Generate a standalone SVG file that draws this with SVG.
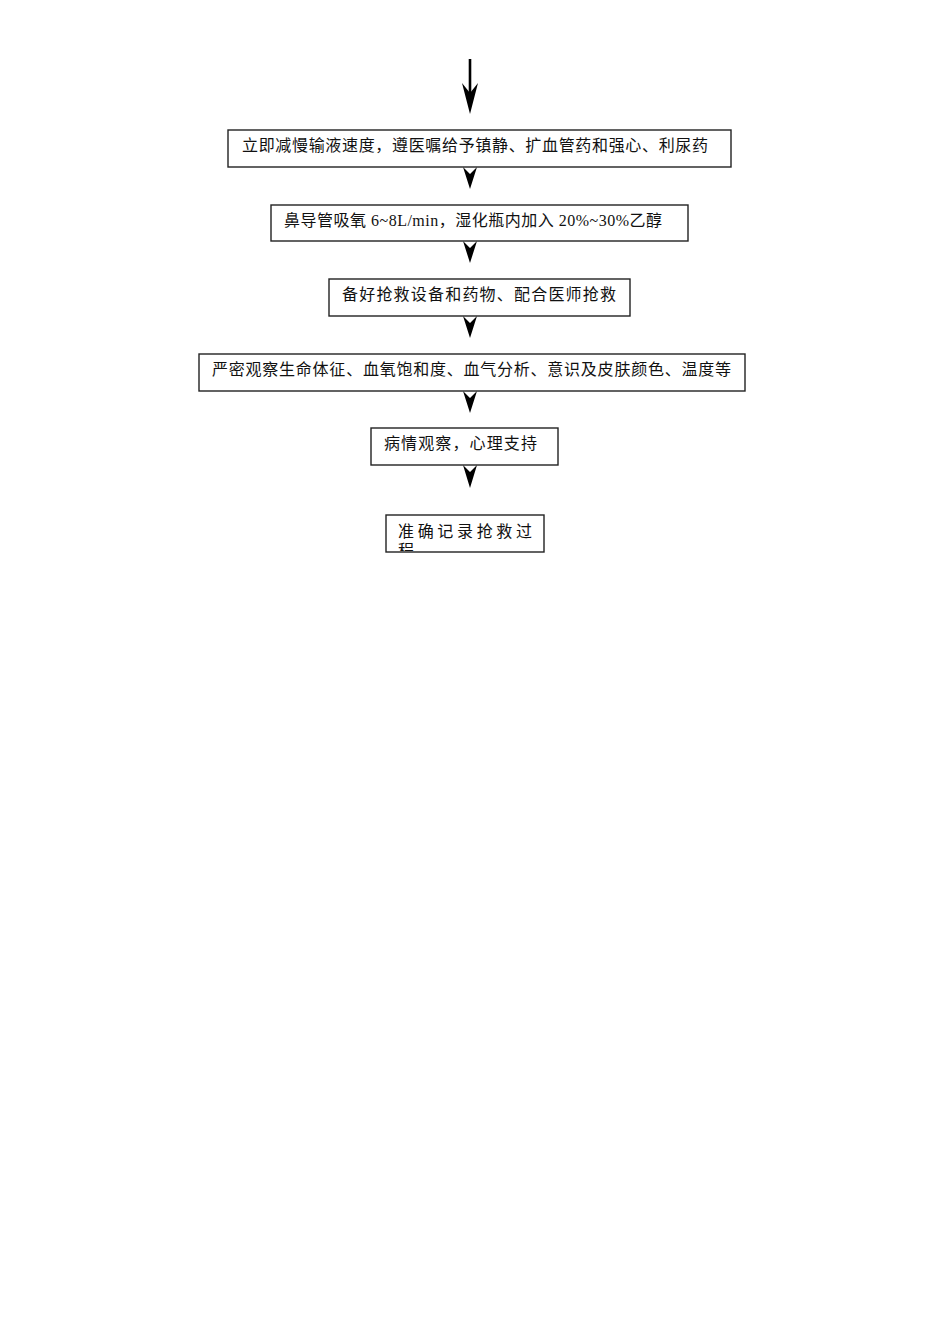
<svg xmlns="http://www.w3.org/2000/svg" width="950" height="1344" viewBox="0 0 950 1344">
<style>
.box{fill:#fff;stroke:#222;stroke-width:1.4}
.t{font-family:"Liberation Serif","Noto Sans CJK SC",serif;font-size:16px;fill:#111}
.ah{fill:#000}
.ln{stroke:#000;stroke-width:2.6;fill:none}
</style>
<defs>
<clipPath id="c6"><rect x="387" y="516" width="156" height="35"/></clipPath>
</defs>
<rect width="950" height="1344" fill="#fff"/>
<g id="connectors">
<line class="ln" x1="470" y1="59" x2="470" y2="100"/>
<path class="ah" d="M462,83 L470,93 L478,83 L470,114 Z"/>
<path class="ah" d="M463,167 L470,174 L477,167 L470,189 Z"/>
<path class="ah" d="M463,241 L470,248 L477,241 L470,263 Z"/>
<path class="ah" d="M463,316 L470,323 L477,316 L470,338 Z"/>
<path class="ah" d="M463,391 L470,398 L477,391 L470,413 Z"/>
<path class="ah" d="M463,465 L470,472 L477,465 L470,488 Z"/>
</g>
<g id="node1">
<rect class="box" x="228" y="130" width="503" height="37"/>
<text class="t" x="242" y="151" textLength="466" lengthAdjust="spacing">立即减慢输液速度，遵医嘱给予镇静、扩血管药和强心、利尿药</text>
</g>
<g id="node2">
<rect class="box" x="271" y="205" width="417" height="36"/>
<text class="t" x="284" y="226" textLength="378" lengthAdjust="spacing">鼻导管吸氧 6~8L/min，湿化瓶内加入 20%~30%乙醇</text>
</g>
<g id="node3">
<rect class="box" x="329" y="279" width="301" height="37"/>
<text class="t" x="342" y="300" textLength="274" lengthAdjust="spacing">备好抢救设备和药物、配合医师抢救</text>
</g>
<g id="node4">
<rect class="box" x="199" y="354" width="546" height="37"/>
<text class="t" x="212" y="375" textLength="519" lengthAdjust="spacing">严密观察生命体征、血氧饱和度、血气分析、意识及皮肤颜色、温度等</text>
</g>
<g id="node5">
<rect class="box" x="371" y="428" width="187" height="37"/>
<text class="t" x="384" y="449" textLength="153" lengthAdjust="spacing">病情观察，心理支持</text>
</g>
<g id="node6">
<rect class="box" x="386" y="515" width="158" height="37"/>
<g clip-path="url(#c6)">
<text class="t" x="398" y="537" textLength="134" lengthAdjust="spacing">准确记录抢救过</text>
<text class="t" x="398" y="556">程</text>
</g>
</g>
</svg>
